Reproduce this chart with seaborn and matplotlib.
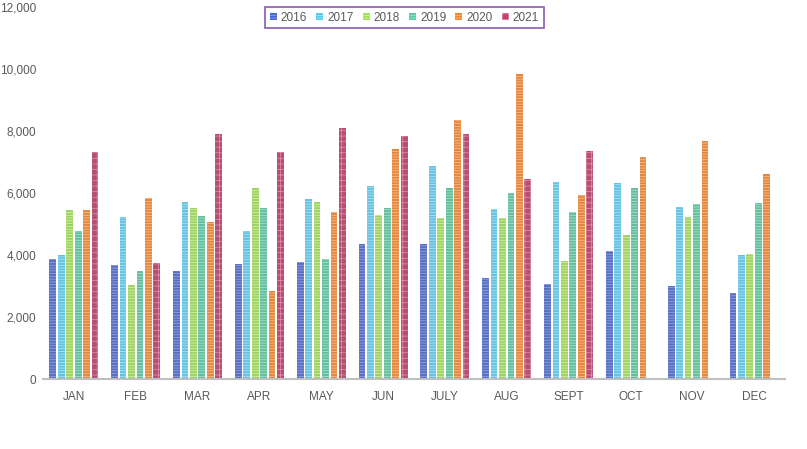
import pandas as pd
import matplotlib.pyplot as plt
import seaborn as sns

# Monthly values per year
months = ['JAN', 'FEB', 'MAR', 'APR', 'MAY', 'JUN', 'JULY', 'AUG', 'SEPT', 'OCT', 'NOV', 'DEC']
years = ['2016', '2017', '2018', '2019', '2020', '2021']
v2016 = [3860, 3670, 3470, 3700, 3760, 4340, 4340, 3250, 3050, 4120, 2990, 2770]
v2017 = [3990, 5210, 5720, 4760, 5820, 6240, 6880, 5500, 6370, 6330, 5560, 3990]
v2018 = [5450, 3020, 5530, 6170, 5720, 5300, 5180, 5180, 3800, 4660, 5210, 4020]
v2019 = [4760, 3470, 5270, 5530, 3860, 5530, 6170, 6010, 5400, 6170, 5660, 5690]
v2020 = [5450, 5850, 5080, 2830, 5400, 7430, 8360, 9840, 5920, 7170, 7680, 6620]
v2021 = [7330, 3730, 7910, 7330, 8100, 7850, 7910, 6460, 7360, None, None, None]

series = [v2016, v2017, v2018, v2019, v2020, v2021]
rows = []
for yr, vals in zip(years, series):
    for m, v in zip(months, vals):
        rows.append({'month': m, 'year': yr, 'value': v})
df = pd.DataFrame(rows)

colors = ['#4A64D2', '#55CBF4', '#A0E550', '#55CDA2', '#FF8424', '#C63F6C']
hatch_cols = ['#9AABEA', '#B0E9FB', '#D6F5B2', '#AEE9D4', '#FFC497', '#E592AE']
hatches = ['------', '------', '------', '------', '------', '+++']

sns.set_style('white')
plt.rcParams['font.family'] = ['Liberation Sans', 'DejaVu Sans']
plt.rcParams['hatch.linewidth'] = 0.5

fig = plt.figure(figsize=(8.07, 4.49), dpi=100)
ax = fig.add_axes([43 / 807, 70 / 449, 742 / 807, 372 / 449])

sns.barplot(data=df, x='month', y='value', hue='year', palette=colors,
            width=0.82, gap=0.2, ax=ax, legend=False)

for i, cont in enumerate(ax.containers):
    for bar in cont:
        bar.set_hatch(hatches[i])
        bar.set_edgecolor(hatch_cols[i])
        bar.set_linewidth(0)

ax.set_ylim(0, 12000)
ax.set_xlim(-0.5, 11.5)
ax.set_yticks(range(0, 12001, 2000))
ax.set_yticklabels([f'{t:,}' for t in range(0, 12001, 2000)])
ax.set_xlabel('')
ax.set_ylabel('')
ax.tick_params(axis='both', length=0, labelsize=8.5, colors='#595959')
ax.tick_params(axis='x', pad=9)
ax.tick_params(axis='y', pad=5)

for s in ['top', 'right', 'left']:
    ax.spines[s].set_visible(False)
ax.spines['bottom'].set_color('#BFBFBF')
ax.spines['bottom'].set_linewidth(1.5)

# legend with square markers in a purple box
handles = [plt.Rectangle((0, 0), 1, 1, facecolor=c, edgecolor=h, hatch=ht, linewidth=0)
           for c, h, ht in zip(colors, hatch_cols, hatches)]
leg = ax.legend(handles, years, ncol=6, loc='upper center',
                bbox_to_anchor=(0.487, 1.0), frameon=True, fontsize=8.5,
                handlelength=0.6, handleheight=0.6, handletextpad=0.35,
                columnspacing=0.75, borderpad=0.4, borderaxespad=0, fancybox=False)
leg.get_frame().set_edgecolor('#7030A0')
leg.get_frame().set_linewidth(1.2)
for t in leg.get_texts():
    t.set_color('#595959')

fig.savefig('out.png', dpi=100)
